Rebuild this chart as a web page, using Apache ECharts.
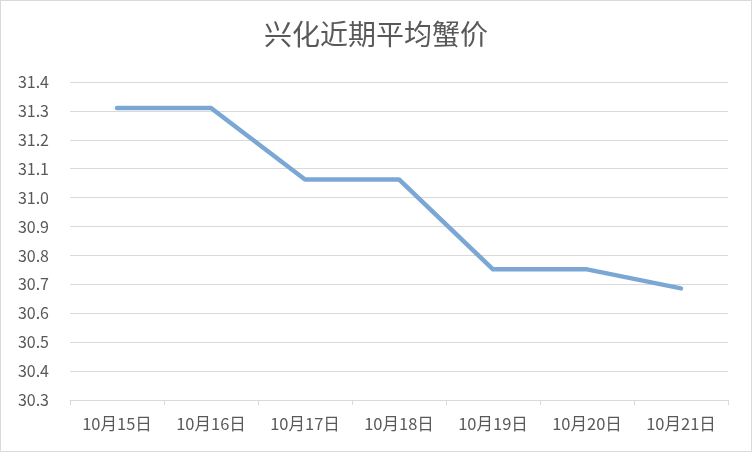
<!DOCTYPE html>
<html>
<head>
<meta charset="utf-8">
<script src="https://cdn.jsdelivr.net/npm/echarts@6/dist/echarts.min.js"></script>
<style>
html,body{margin:0;padding:0;background:#fff;}
#c{width:750px;height:450px;border:1px solid #d9d9d9;}
</style>
</head>
<body>
<div id="c"></div>
<script>
var titleText = '兴化近期平均蟹价';
var categories = ['10月15日','10月16日','10月17日','10月18日','10月19日','10月20日','10月21日'];
var prices = [31.31, 31.31, 31.063, 31.063, 30.752, 30.752, 30.686];
var yMin = 30.3, yMax = 31.4, yStep = 0.1;

var chart = echarts.init(document.getElementById('c'));
var font = "'Noto Sans CJK SC', 'Liberation Sans', sans-serif";
chart.setOption({
  animation: false,
  title: {
    text: titleText, left: 'center', top: 14,
    textStyle: {fontSize: 28, fontWeight: 'normal', color: '#595959', fontFamily: font}
  },
  grid: {left: 69, right: 23, top: 81, bottom: 51},
  xAxis: {
    type: 'category', data: categories, boundaryGap: true,
    axisLine: {lineStyle: {color: '#d9d9d9', width: 1}},
    axisTick: {show: true, length: 5, lineStyle: {color: '#d9d9d9'}},
    axisLabel: {color: '#595959', fontSize: 16.5, margin: 15, fontFamily: font}
  },
  yAxis: {
    type: 'value', min: yMin, max: yMax, interval: yStep,
    axisLine: {show: false}, axisTick: {show: false},
    splitLine: {lineStyle: {color: '#d9d9d9', width: 1}},
    axisLabel: {color: '#595959', fontSize: 16, margin: 21, fontFamily: font,
      formatter: function(v){ return v.toFixed(1); }}
  },
  series: [{
    type: 'line', data: prices, symbol: 'none',
    lineStyle: {color: '#7ba7d5', width: 4.5, cap: 'round', join: 'round'}
  }]
});
</script>
</body>
</html>
